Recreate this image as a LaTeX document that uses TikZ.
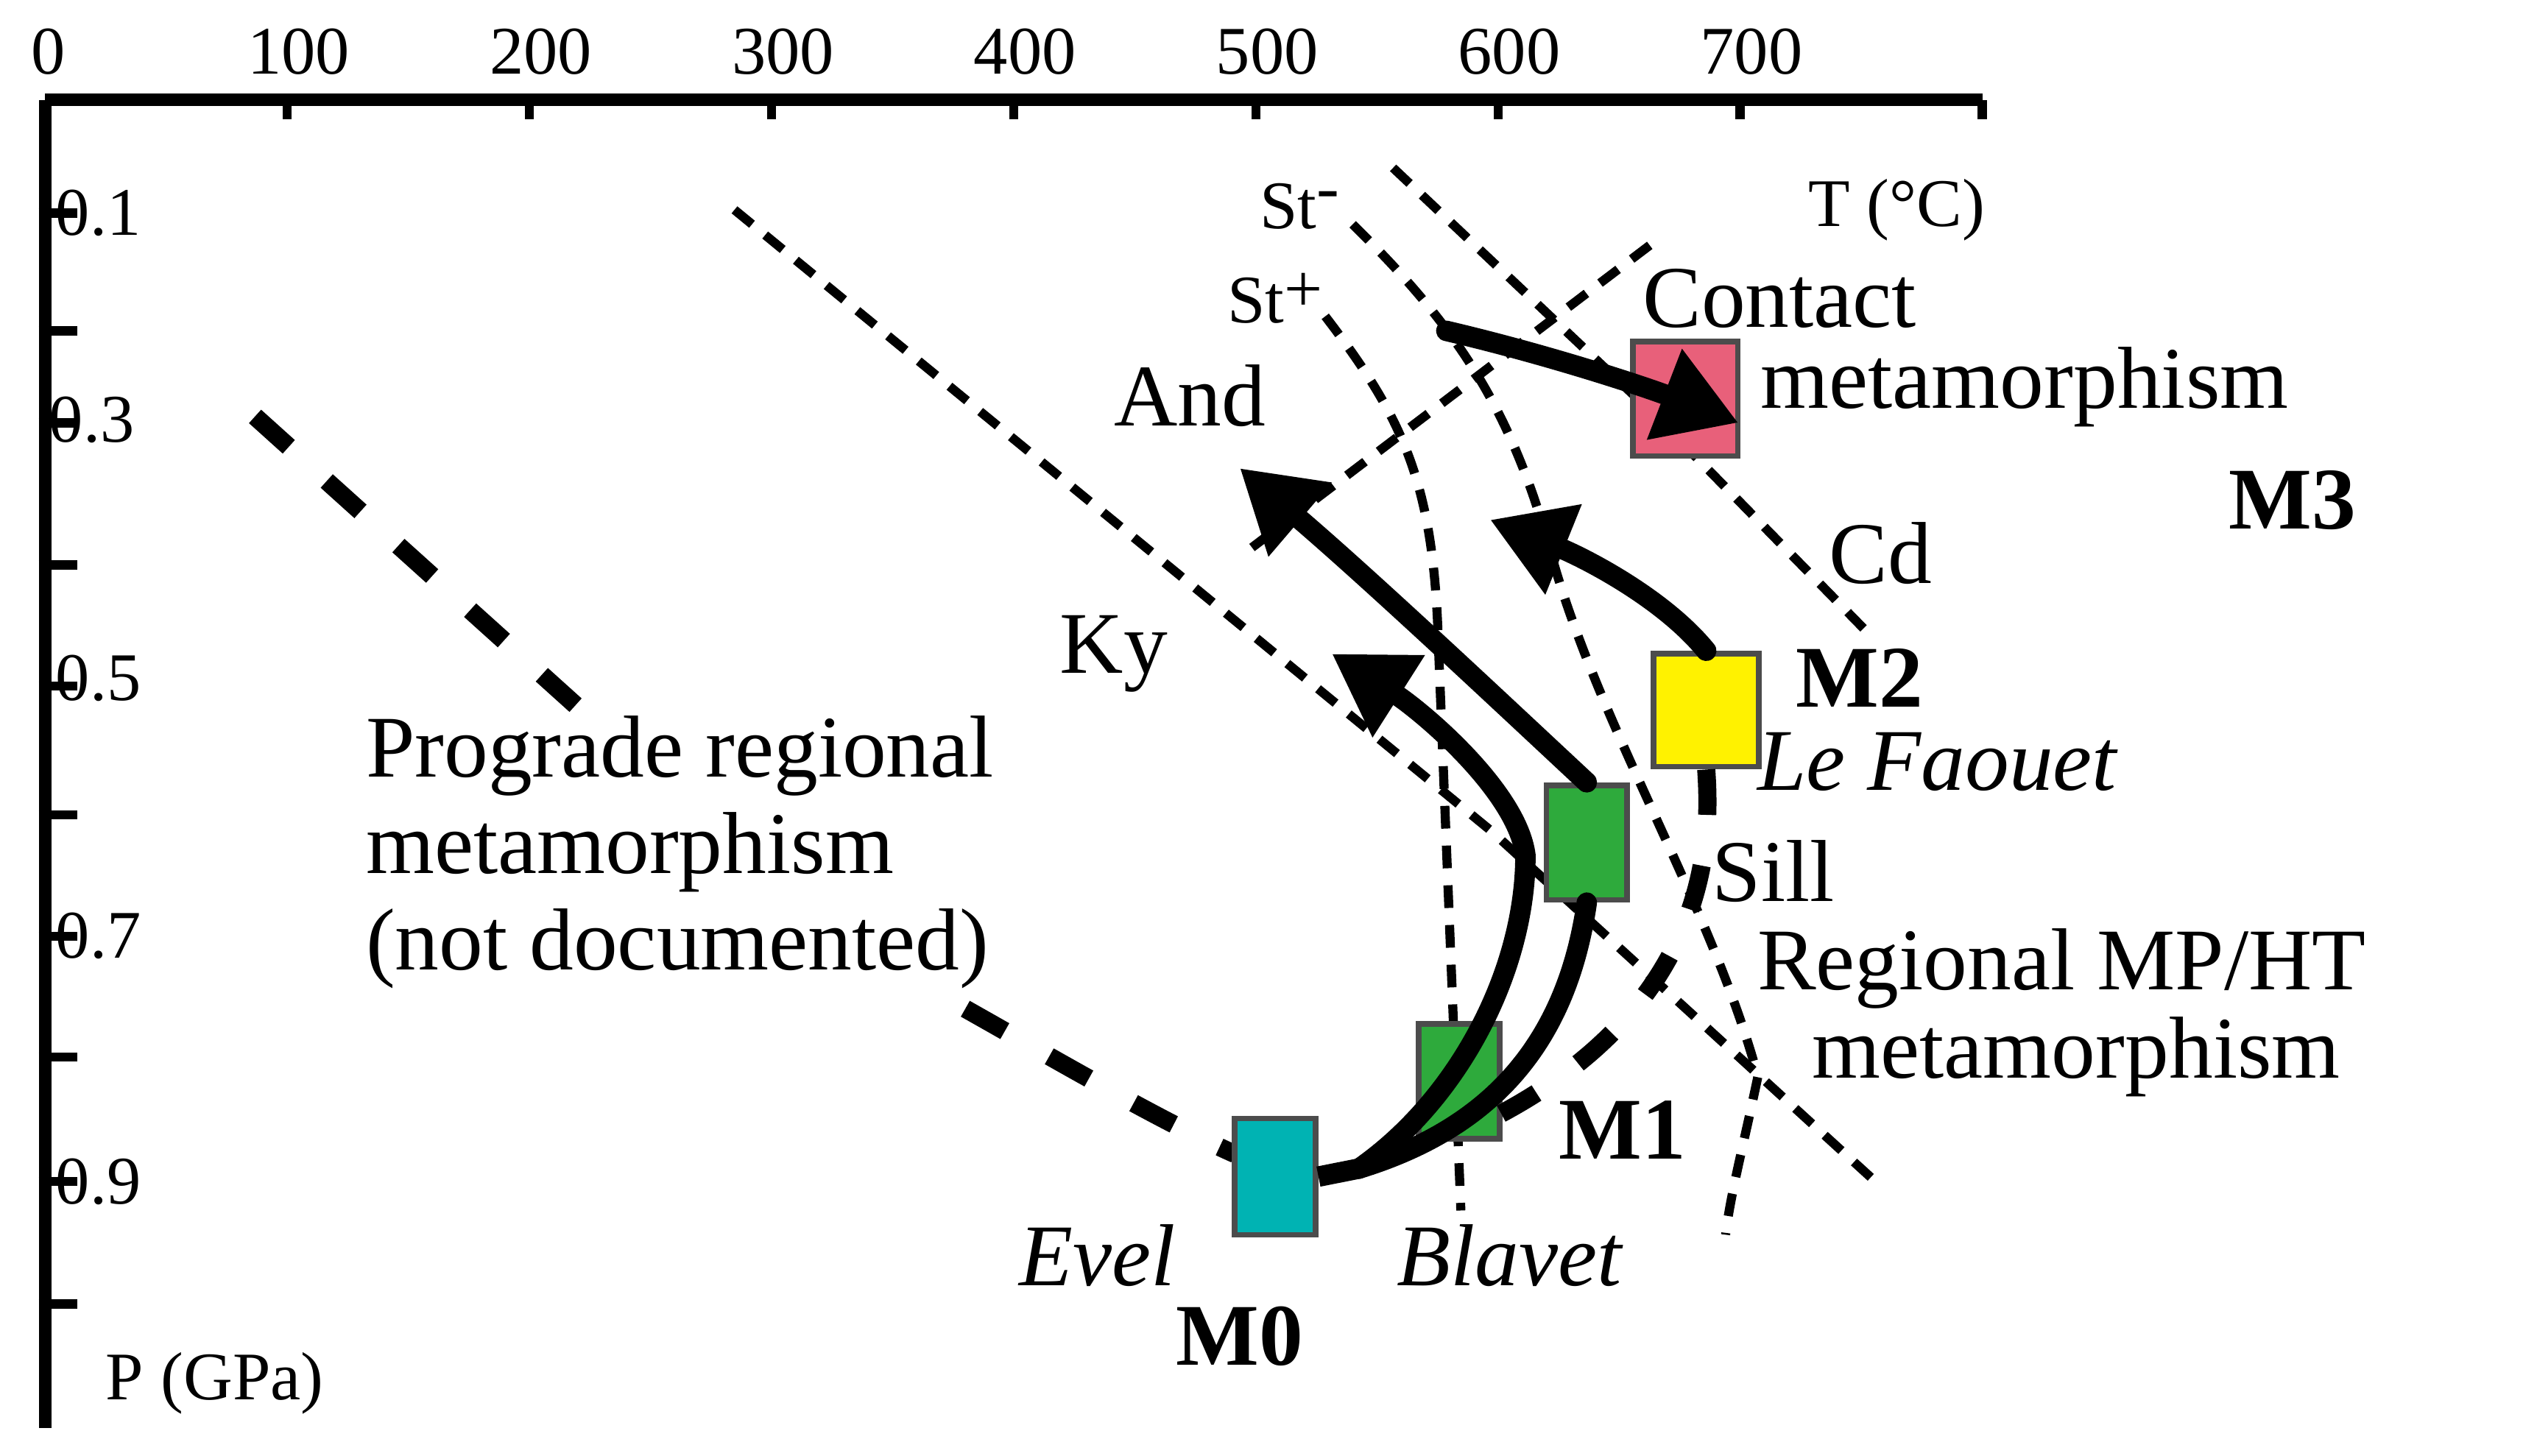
\documentclass[tikz,border=0pt]{standalone}
\usepackage{fontspec}
\setmainfont{Liberation Serif}
\usetikzlibrary{arrows.meta}
\definecolor{pinkc}{HTML}{E8607A}
\definecolor{yelc}{HTML}{FFF200}
\definecolor{grnc}{HTML}{2EAA3C}
\definecolor{cyac}{HTML}{00B3B3}
\tikzset{
  box/.style={draw=black!70,line width=1pt,minimum width=0.5cm,minimum height=0.71cm,inner sep=0},
  lbl/.style={font=\fontsize{15.5}{17}\selectfont,inner sep=0},
  small/.style={font=\fontsize{12}{13}\selectfont,inner sep=0},
  fine/.style={line width=1.6pt,dash pattern=on 4pt off 3pt},
  thickdash/.style={line width=3.2pt,dash pattern=on 8pt off 9pt},
  path/.style={line width=3.6pt,line cap=round},
  head/.style={-{Triangle[length=14pt,width=12pt,angle'=60]}}
}
\begin{document}
\begin{tikzpicture}[x=0.01cm,y=-0.01cm]
\useasboundingbox[fill=white] (0,0) rectangle (1563,902);
% axes
\draw[line width=2.2pt] (28,62) -- (1228,62);
\draw[line width=2.2pt] (28,62) -- (28,885);
\foreach \i in {0,...,8}{
  \draw[line width=1.6pt] (28+150*\i,62) -- (28+150*\i,74);
}
\foreach \xx/\l in {30/0,185/100,335/200,485/300,635/400,785/500,935/600,1085/700}{
  \node[small] (tx\l) at (\xx,32) {\l};
}
\foreach \y in {132,205,262,350,425,505,580,655,732,808}{
  \draw[line width=1.6pt] (24,\y) -- (48,\y);
}
\node[small,anchor=east] (p1) at (88,132) {0.1};
\node[small,anchor=east] (p3) at (84,260) {0.3};
\node[small,anchor=east] (p5) at (88,420) {0.5};
\node[small,anchor=east] (p7) at (88,580) {0.7};
\node[small,anchor=east] (p9) at (88,732) {0.9};
\node[small] (pg) at (133,857) {P (GPa)};
\node[small] (tc) at (1175,130) {T (°C)};
% fine dotted boundaries
\draw[fine] (455,130) -- (924,515) -- (1165,735);
\draw[fine] (863,104) -- (1025,257) -- (1160,395);
\draw[fine] (1022,152) -- (768,345);
\draw[fine] (821,196) .. controls (870,260) and (888,300) .. (891,397) -- (905,750);
\draw[fine] (838,139) .. controls (900,200) and (935,250) .. (960,340)
  .. controls (990,450) and (1060,560) .. (1089,667) .. controls (1080,710) and (1072,740) .. (1069,765);
% prograde dashed
\draw[thickdash] (158,258) -- (360,440);
\draw[thickdash] (598,625) .. controls (660,660) and (720,695) .. (765,715);
% boxes
\node[box,fill=pinkc,minimum width=0.65cm] (m3) at (1044,247) {};
\node[box,fill=yelc,minimum width=0.65cm,minimum height=0.70cm] (m2) at (1057,440) {};
\node[box,fill=grnc] (g1) at (983,522) {};
\node[box,fill=grnc] (g2) at (904,670) {};
\node[box,fill=cyac,minimum height=0.72cm] (m0) at (790,729) {};
\coordinate (s) at (842,724);
% paths
\draw[thickdash,line width=3.6pt,dash pattern=on 9pt off 4pt] (m0.east) -- (s);
\draw[path,head] (s) .. controls (905,680) and (945,600) .. (945,530)
  .. controls (940,490) and (880,440) .. (825,405);
\draw[path] (s) .. controls (920,700) and (970,650) .. (g1.south);
\draw[path,head] (g1.north) .. controls (935,440) and (850,360) .. (768,290);
\draw[path,head] (m2.north) .. controls (1030,370) and (980,345) .. (923,322);
\draw[path,head] (896,205) .. controls (960,220) and (1020,240) .. (1077,262);
\draw[thickdash] (m2.south) .. controls (1060,520) and (1060,620) .. (930,690);
% labels
\node[lbl,anchor=west] (contact) at (1017,185) {Contact};
\node[lbl,anchor=west] (meta3) at (1090,240) {metamorphism};
\node[lbl] (M3) at (1420,310) {\bfseries M3};
\node[lbl] (and) at (737,245) {And};
\node[lbl] (ky) at (690,405) {Ky};
\node[lbl] (cd) at (1165,343) {Cd};
\node[lbl,anchor=west] (M2) at (1112,420) {\bfseries M2};
\node[lbl,anchor=west] (lf) at (1088,472) {\itshape Le Faouet};
\node[lbl,anchor=west] (sill) at (1060,540) {Sill};
\node[lbl,anchor=west] (reg) at (1088,600) {Regional MP/HT};
\node[lbl,anchor=west] (meta2) at (1122,655) {metamorphism};
\node[lbl] (M1) at (1005,700) {\bfseries M1};
\node[lbl] (evel) at (680,778) {\itshape Evel};
\node[lbl] (blavet) at (935,778) {\itshape Blavet};
\node[lbl] (M0) at (768,828) {\bfseries M0};
\node[lbl,anchor=west,align=left] (pro) at (226,528) {Prograde regional\\metamorphism\\(not documented)};
\node[small] (stm) at (805,128) {St\raisebox{0.6ex}{-}};
\node[small] (stp) at (790,185) {St\raisebox{0.35ex}{+}};
\end{tikzpicture}
\end{document}
